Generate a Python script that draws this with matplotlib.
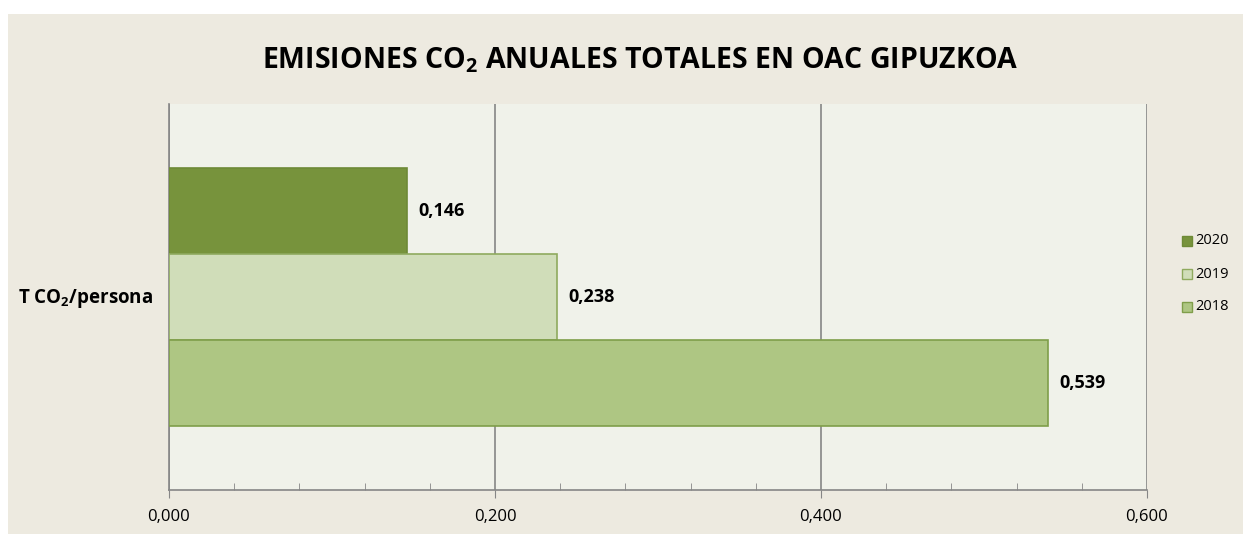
import matplotlib
matplotlib.use("Agg")
import matplotlib.pyplot as plt
from matplotlib.patches import Rectangle
from matplotlib.ticker import MultipleLocator, FuncFormatter
from matplotlib import font_manager

years = ["2020", "2019", "2018"]
values = [0.146, 0.238, 0.539]
colors = ["#77933C", "#D0DDB9", "#AEC683"]
edge_colors = ["#6E8A36", "#8FAA5E", "#7F9E4A"]
category = "T CO$_\\mathbf{2}$/persona"
title = "EMISIONES CO$_\\mathbf{2}$ ANUALES TOTALES EN OAC GIPUZKOA"
xticks = [0.0, 0.2, 0.4, 0.6]

names = {f.name for f in font_manager.fontManager.ttflist}
fam = "Open Sans" if "Open Sans" in names else "DejaVu Sans"
plt.rcParams["font.family"] = [fam, "DejaVu Sans"]
plt.rcParams["mathtext.fontset"] = "custom"
plt.rcParams["mathtext.rm"] = fam
plt.rcParams["mathtext.bf"] = fam + ":bold"

fig = plt.figure(figsize=(12.43, 5.34), dpi=100, facecolor="white")
W, H = 1243, 534
fig.patches.append(Rectangle((8 / W, 0), 1 - 8 / W, 1 - 14 / H, transform=fig.transFigure,
                             facecolor="#EDEAE0", edgecolor="none", zorder=-10))

ax = fig.add_axes([169 / W, 1 - 490 / H, (1147 - 169) / W, (490 - 104) / H])
ax.set_facecolor("#F0F2EA")

bar_h = 86 / 386
centers = [0.5 + bar_h, 0.5, 0.5 - bar_h]
for y, v, c, ec in zip(centers, values, colors, edge_colors):
    ax.barh(y, v, height=bar_h, color=c, edgecolor=ec, linewidth=1.2, zorder=3)
    ax.text(v + 0.007, y, f"{v:.3f}".replace(".", ","), va="center", ha="left",
            fontsize=13, fontweight="bold", color="black", zorder=4)

ax.set_xlim(0, 0.6)
ax.set_ylim(0, 1)
ax.set_xticks(xticks)
ax.xaxis.set_minor_locator(MultipleLocator(0.04))
ax.xaxis.set_major_formatter(FuncFormatter(lambda x, p: f"{x:.3f}".replace(".", ",")))
ax.tick_params(axis="x", which="major", length=6, color="#868686", labelsize=12, pad=8)
ax.tick_params(axis="x", which="minor", length=5, color="#868686", direction="in")
ax.set_yticks([])
ax.grid(axis="x", which="major", color="#868686", linewidth=1.2, zorder=0)
for s in ["top", "right"]:
    ax.spines[s].set_visible(False)
for s in ["left", "bottom"]:
    ax.spines[s].set_color("#868686")
    ax.spines[s].set_linewidth(1.2)

fig.text(18 / W, 1 - 298 / H, category, fontsize=13.5, fontweight="bold", va="center", ha="left")
fig.text(640 / W, 1 - 60 / H, title, fontsize=20.5, fontweight="bold", va="center", ha="center")

# legend
leg_items = list(zip(years, colors, edge_colors))
for i, (yr, c, ec) in enumerate(leg_items):
    yc = 241 + i * 33
    fig.patches.append(Rectangle((1182 / W, 1 - (yc + 5) / H), 10 / W, 10 / H,
                                 transform=fig.transFigure, facecolor=c, edgecolor=ec, linewidth=1))
    fig.text(1195 / W, 1 - yc / H, yr, fontsize=10.5, va="center", ha="left")

fig.savefig("out.png", dpi=100, facecolor=fig.get_facecolor())
